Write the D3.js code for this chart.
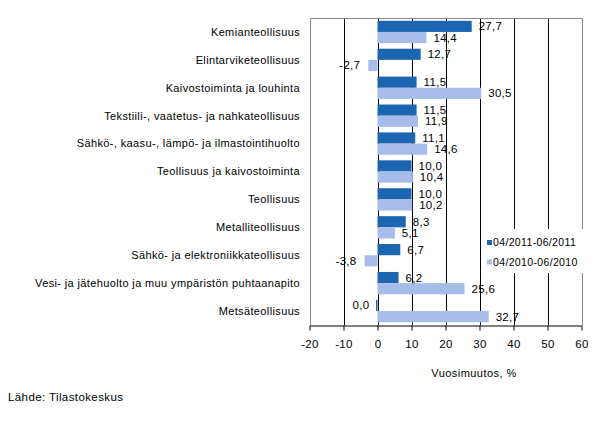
<!DOCTYPE html>
<html>
<head>
<meta charset="utf-8">
<script src="https://cdn.jsdelivr.net/npm/d3@7"></script>
<style>
  body { margin: 0; background: #fff; }
  svg { display: block; font-family: "Liberation Sans", Arial, sans-serif; }
</style>
</head>
<body>
<script>
// categories, top to bottom
const categories = [
    "Kemianteollisuus",
    "Elintarviketeollisuus",
    "Kaivostoiminta ja louhinta",
    "Tekstiili-, vaatetus- ja nahkateollisuus",
    "Sähkö-, kaasu-, lämpö- ja ilmastointihuolto",
    "Teollisuus ja kaivostoiminta",
    "Teollisuus",
    "Metalliteollisuus",
    "Sähkö- ja elektroniikkateollisuus",
    "Vesi- ja jätehuolto ja muu ympäristön puhtaanapito",
    "Metsäteollisuus"
];
const seriesNames = ["04/2011-06/2011", "04/2010-06/2010"];
const values2011 = [27.7, 12.7, 11.5, 11.5, 11.1, 10.0, 10.0, 8.3, 6.7, 6.2, 0.0];
const values2010 = [14.4, -2.7, 30.5, 11.9, 14.6, 10.4, 10.2, 5.1, -3.8, 25.6, 32.7];
const xTicks = [-20, -10, 0, 10, 20, 30, 40, 50, 60];
const colors = ["#1c66b1", "#a8bcea"];

const W = 598, H = 421;
const plot = {left: 309.5, right: 581.5, top: 18, bottom: 325};

const data = categories.map((c, i) => ({cat: c, vals: [values2011[i], values2010[i]]}));

const svg = d3.select("body").append("svg")
    .attr("width", W)
    .attr("height", H);

const x = d3.scaleLinear()
    .domain([xTicks[0], xTicks[xTicks.length - 1]])
    .range([plot.left, plot.right]);

const y = d3.scaleBand()
    .domain(categories)
    .range([plot.top, plot.bottom])
    .paddingInner(0.2)
    .paddingOuter(0.1);

const ySub = d3.scaleBand()
    .domain([0, 1])
    .range([0, y.bandwidth()]);

// gridlines
svg.append("g")
    .selectAll("line")
    .data(xTicks.slice(1, -1))
    .enter().append("line")
    .attr("x1", d => Math.round(x(d)) + 0.5)
    .attr("x2", d => Math.round(x(d)) + 0.5)
    .attr("y1", plot.top)
    .attr("y2", plot.bottom)
    .attr("stroke", "#000")
    .attr("stroke-width", 1);

// plot frame (gray, top/left/right)
svg.append("path")
    .attr("d", `M${Math.round(x(xTicks[0])) + 0.5},${plot.bottom} V${plot.top + 0.5} H${Math.round(x(xTicks[xTicks.length - 1])) + 0.5} V${plot.bottom}`)
    .attr("fill", "none")
    .attr("stroke", "#888")
    .attr("stroke-width", 1);

// bars
const groups = svg.selectAll(".cat")
    .data(data)
    .enter().append("g")
    .attr("class", "cat")
    .attr("transform", d => "translate(0," + y(d.cat) + ")");

groups.selectAll("rect")
    .data(d => d.vals.map((v, k) => ({v, k})))
    .enter().append("rect")
    .attr("x", d => x(Math.min(0, d.v)))
    .attr("width", d => Math.max(1.5, Math.abs(x(d.v) - x(0))))
    .attr("y", d => ySub(d.k))
    .attr("height", ySub.bandwidth())
    .attr("fill", d => colors[d.k])
    .attr("transform", d => d.v === 0 ? "translate(-1.5,0)" : null);

// value labels
const fmt = v => v.toFixed(1).replace(".", ",");
groups.selectAll("text.val")
    .data(d => d.vals.map((v, k) => ({v, k})))
    .enter().append("text")
    .attr("class", "val")
    .attr("x", d => d.v > 0 ? x(d.v) + 7 : x(d.v) - 8)
    .attr("y", d => ySub(d.k) + ySub.bandwidth() / 2)
    .attr("dy", "0.35em")
    .attr("text-anchor", d => d.v > 0 ? "start" : "end")
    .attr("font-size", 11.5)
    .attr("letter-spacing", 0.3)
    .attr("fill", "#000")
    .text(d => fmt(d.v));

// category labels
svg.append("g")
    .selectAll("text")
    .data(categories)
    .enter().append("text")
    .attr("x", 300)
    .attr("y", d => y(d) + y.bandwidth() / 2)
    .attr("dy", "0.35em")
    .attr("text-anchor", "end")
    .attr("font-size", 11)
    .attr("letter-spacing", 0.37)
    .attr("fill", "#000")
    .text(d => d);

// x axis
const xAxis = svg.append("g")
    .attr("transform", "translate(0," + (plot.bottom + 0.5) + ")")
    .call(d3.axisBottom(x).tickValues(xTicks).tickSize(5).tickSizeOuter(0).tickFormat(d3.format("d")));
xAxis.select(".domain").attr("stroke", "#000");
xAxis.selectAll(".tick line").attr("stroke", "#000");
xAxis.selectAll(".tick text")
    .attr("font-size", 11.5)
    .attr("font-family", "Liberation Sans, Arial, sans-serif")
    .attr("letter-spacing", 0.3)
    .attr("y", 14)
    .text(d => d < 0 ? "-" + Math.abs(d) : d);

// axis title
svg.append("text")
    .attr("x", 474)
    .attr("y", 377)
    .attr("text-anchor", "middle")
    .attr("font-size", 11)
    .attr("letter-spacing", 0.45)
    .text("Vuosimuutos, %");

// legend
const legend = svg.append("g").attr("transform", "translate(484,229)");
legend.append("rect")
    .attr("width", 104)
    .attr("height", 44)
    .attr("fill", "#fff");
legend.selectAll("g")
    .data(seriesNames)
    .enter().append("g")
    .attr("transform", (d, i) => "translate(3," + (13.5 + i * 19.5) + ")")
    .each(function (d, i) {
        const g = d3.select(this);
        g.append("rect")
            .attr("x", 0).attr("y", -2.5)
            .attr("width", 5).attr("height", 5)
            .attr("fill", colors[i]);
        g.append("text")
            .attr("x", 6)
            .attr("dy", "0.35em")
            .attr("font-size", 10.5)
            .attr("letter-spacing", 0.35)
            .text(d);
    });

// source
svg.append("text")
    .attr("x", 8)
    .attr("y", 401)
    .attr("font-size", 11.5)
    .attr("letter-spacing", 0.4)
    .text("Lähde: Tilastokeskus");
</script>
</body>
</html>
